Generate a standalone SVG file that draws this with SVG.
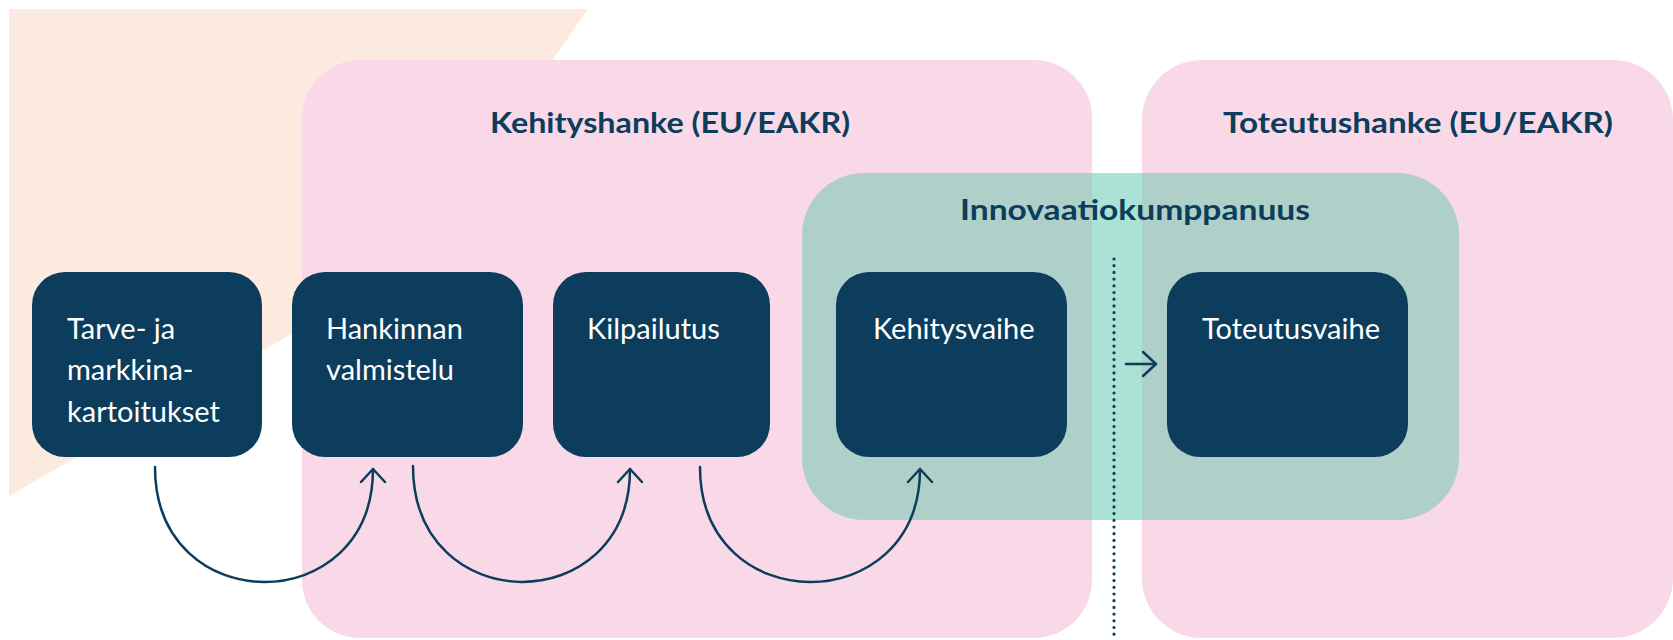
<svg xmlns="http://www.w3.org/2000/svg" width="1673" height="640" viewBox="0 0 1673 640">
  <style>
    .node rect { fill: #0c3d5c; }
    .node text { fill: #ffffff; font-family: Lato, "Liberation Sans", sans-serif; font-size: 29px; }
    .title { fill: #0c3d5c; font-family: Lato, "Liberation Sans", sans-serif; font-weight: bold; font-size: 29px; text-anchor: middle; }
    .arc { fill: none; stroke: #0c3d5c; stroke-width: 2.5; stroke-linecap: round; }
  </style>
  <defs>
    <marker id="chev" markerUnits="userSpaceOnUse" viewBox="-16 -16 32 32" markerWidth="32" markerHeight="32" refX="0" refY="0" orient="auto" overflow="visible">
      <path d="M-13,-12 L0,0 L-13,12" fill="none" stroke="#0c3d5c" stroke-width="2.5" stroke-linecap="round" stroke-linejoin="round"/>
    </marker>
  </defs>
  <rect width="1673" height="640" fill="#ffffff"/>
  <g id="background">
    <polygon points="9,9 588,9 410,266 9,496" fill="#fdeadf"/>
  </g>
  <g id="kehityshanke">
    <rect x="302" y="60" width="790" height="578" rx="58" fill="#f9d9e7"/>
    <text class="title" x="670" y="133" textLength="360" lengthAdjust="spacingAndGlyphs">Kehityshanke (EU/EAKR)</text>
  </g>
  <g id="toteutushanke">
    <rect x="1142" y="60" width="531" height="578" rx="60" fill="#f9d9e7"/>
    <text class="title" x="1418" y="133" textLength="390" lengthAdjust="spacingAndGlyphs">Toteutushanke (EU/EAKR)</text>
  </g>
  <g id="innovaatiokumppanuus">
    <rect x="802" y="173" width="657" height="347" rx="62" fill="#afd0c8"/>
    <rect x="1092" y="173" width="50" height="347" fill="#aae2d5"/>
    <text class="title" x="1135" y="220" textLength="350" lengthAdjust="spacingAndGlyphs">Innovaatiokumppanuus</text>
  </g>
  <g id="divider">
    <line x1="1114" y1="259" x2="1114" y2="640" stroke="#0c3d5c" stroke-width="3.2" stroke-dasharray="0 6.7" stroke-linecap="round"/>
  </g>
  <g id="n1" class="node">
    <rect x="32" y="272" width="230" height="185" rx="33"/>
    <text x="67" y="339">Tarve- ja</text>
    <text x="67" y="380">markkina-</text>
    <text x="67" y="422">kartoitukset</text>
  </g>
  <g id="n2" class="node">
    <rect x="292" y="272" width="231" height="185" rx="33"/>
    <text x="326" y="339">Hankinnan</text>
    <text x="326" y="380">valmistelu</text>
  </g>
  <g id="n3" class="node">
    <rect x="553" y="272" width="217" height="185" rx="33"/>
    <text x="587" y="339">Kilpailutus</text>
  </g>
  <g id="n4" class="node">
    <rect x="836" y="272" width="231" height="185" rx="33"/>
    <text x="873" y="339">Kehitysvaihe</text>
  </g>
  <g id="n5" class="node">
    <rect x="1167" y="272" width="241" height="185" rx="33"/>
    <text x="1202" y="339">Toteutusvaihe</text>
  </g>
  <g id="connectors">
    <path class="arc" d="M155,467 C155,620 373,620 373,469" marker-end="url(#chev)"/>
    <path class="arc" d="M413,466 C413,620 630,620 630,469" marker-end="url(#chev)"/>
    <path class="arc" d="M700,467 C700,620 920,620 920,469" marker-end="url(#chev)"/>
    <path class="arc" d="M1126,364 L1156,364" marker-end="url(#chev)"/>
  </g>
</svg>
